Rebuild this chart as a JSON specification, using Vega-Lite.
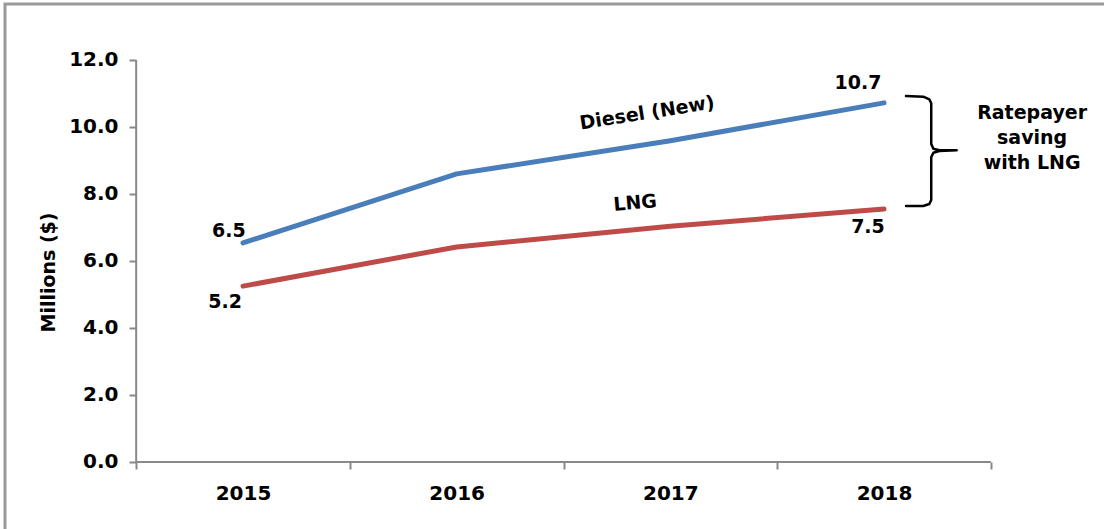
{
  "$schema": "https://vega.github.io/schema/vega-lite/v6.json",
  "width": 1104,
  "height": 530,
  "autosize": {"type": "none"},
  "padding": {"left": 5, "top": 4, "right": 0, "bottom": 0},
  "background": "white",
  "view": {"stroke": "#999999", "strokeWidth": 3},
  "config": {"text": {"font": "DejaVu Sans", "fontWeight": "bold", "fontSize": 19, "color": "#000000"}},
  "datasets": {
    "frame": [
      {"x": 2014.5, "y": 0, "x2": 2014.5, "y2": 12},
      {"x": 2014.5, "y": 0, "x2": 2018.5, "y2": 0}
    ],
    "series": [
      {"series": "Diesel (New)", "x": 2015, "y": 6.54},
      {"series": "Diesel (New)", "x": 2016, "y": 8.6},
      {"series": "Diesel (New)", "x": 2017, "y": 9.59},
      {"series": "Diesel (New)", "x": 2018, "y": 10.72},
      {"series": "LNG", "x": 2015, "y": 5.25},
      {"series": "LNG", "x": 2016, "y": 6.42},
      {"series": "LNG", "x": 2017, "y": 7.04},
      {"series": "LNG", "x": 2018, "y": 7.55}
    ],
    "notes": [
      {"group": "value", "x": 2014.934, "y": 6.896, "text": "6.5"},
      {"group": "value", "x": 2014.916, "y": 4.776, "text": "5.2"},
      {"group": "value", "x": 2017.878, "y": 11.299, "text": "10.7"},
      {"group": "value", "x": 2017.925, "y": 7.015, "text": "7.5"},
      {"group": "diesel", "x": 2016.891, "y": 10.418, "text": "Diesel (New)"},
      {"group": "lng", "x": 2016.835, "y": 7.731, "text": "LNG"},
      {"group": "side", "x": 2018.693, "y": 10.418, "text": "Ratepayer"},
      {"group": "side", "x": 2018.693, "y": 9.672, "text": "saving"},
      {"group": "side", "x": 2018.693, "y": 8.925, "text": "with LNG"}
    ],
    "brace": [
      {"i": 1, "x": 2018.103, "y": 10.925},
      {"i": 2, "x": 2018.184, "y": 10.904},
      {"i": 3, "x": 2018.212, "y": 10.827},
      {"i": 4, "x": 2018.221, "y": 10.707},
      {"i": 5, "x": 2018.221, "y": 9.493},
      {"i": 6, "x": 2018.231, "y": 9.352},
      {"i": 7, "x": 2018.259, "y": 9.304},
      {"i": 8, "x": 2018.340, "y": 9.304},
      {"i": 9, "x": 2018.259, "y": 9.284},
      {"i": 10, "x": 2018.231, "y": 9.233},
      {"i": 11, "x": 2018.221, "y": 9.096},
      {"i": 12, "x": 2018.221, "y": 7.821},
      {"i": 13, "x": 2018.212, "y": 7.701},
      {"i": 14, "x": 2018.184, "y": 7.642},
      {"i": 15, "x": 2018.103, "y": 7.642}
    ]
  },
  "encoding": {
    "x": {
      "field": "x", "type": "quantitative",
      "scale": {"domain": [2013.8861, 2019.053], "nice": false, "zero": false},
      "axis": {
        "title": null,
        "values": [2014.5, 2015.5, 2016.5, 2017.5, 2018.5],
        "domain": false, "grid": false, "offset": -72,
        "ticks": true, "labels": true,
        "tickSize": 7, "tickWidth": 2, "tickColor": "#898989",
        "labelExpr": "datum.value < 2018 ? format(datum.value + 0.5, 'd') : ''",
        "labelOffset": 106.8, "labelPadding": 14,
        "labelFont": "DejaVu Sans", "labelFontWeight": "bold", "labelFontSize": 20, "labelColor": "#000000",
        "labelOverlap": false, "labelBound": false, "labelFlush": false
      }
    },
    "y": {
      "field": "y", "type": "quantitative",
      "scale": {"domain": [-2.1493, 13.6716], "nice": false, "zero": false},
      "axis": {
        "title": "Millions ($)",
        "values": [0, 2, 4, 6, 8, 10, 12], "format": ".1f",
        "domain": false, "grid": false, "offset": -131,
        "ticks": true, "labels": true,
        "tickSize": 7, "tickWidth": 2, "tickColor": "#898989",
        "labelPadding": 11,
        "labelFont": "DejaVu Sans", "labelFontWeight": "bold", "labelFontSize": 20, "labelColor": "#000000",
        "labelOverlap": false, "labelBound": false, "labelFlush": false,
        "titleFont": "DejaVu Sans", "titleFontWeight": "bold", "titleFontSize": 19, "titleColor": "#000000",
        "titleX": -88, "titleY": 268, "titleAngle": 270, "titleBaseline": "middle", "titleAlign": "center"
      }
    }
  },
  "layer": [
    {
      "data": {"name": "frame"},
      "mark": {"type": "rule", "color": "#898989", "strokeWidth": 2},
      "encoding": {
        "x2": {"field": "x2"},
        "y2": {"field": "y2"}
      }
    },
    {
      "data": {"name": "series"},
      "mark": {"type": "line", "strokeWidth": 5, "strokeCap": "round", "strokeJoin": "round"},
      "encoding": {
        "color": {
          "field": "series", "type": "nominal",
          "scale": {"domain": ["Diesel (New)", "LNG"], "range": ["#4a7ebb", "#be4b48"]},
          "legend": null
        }
      }
    },
    {
      "data": {"name": "notes"},
      "transform": [{"filter": "datum.group == 'value' || datum.group == 'side'"}],
      "mark": {"type": "text", "align": "center", "baseline": "middle"},
      "encoding": {"text": {"field": "text"}}
    },
    {
      "data": {"name": "notes"},
      "transform": [{"filter": "datum.group == 'diesel'"}],
      "mark": {"type": "text", "align": "center", "baseline": "middle", "angle": -9},
      "encoding": {"text": {"field": "text"}}
    },
    {
      "data": {"name": "notes"},
      "transform": [{"filter": "datum.group == 'lng'"}],
      "mark": {"type": "text", "align": "center", "baseline": "middle", "angle": -5},
      "encoding": {"text": {"field": "text"}}
    },
    {
      "data": {"name": "brace"},
      "mark": {"type": "line", "color": "#000000", "strokeWidth": 2.5, "strokeJoin": "round", "strokeCap": "round"},
      "encoding": {"order": {"field": "i", "type": "quantitative"}}
    }
  ]
}
